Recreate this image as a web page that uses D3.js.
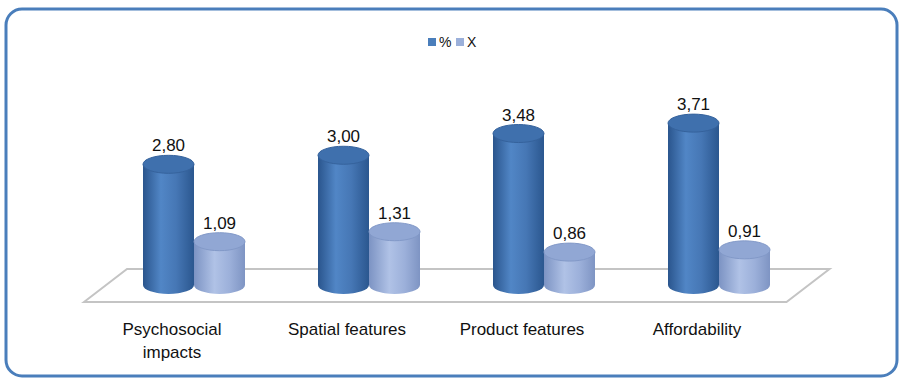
<!DOCTYPE html>
<html>
<head>
<meta charset="utf-8">
<script src="https://cdn.jsdelivr.net/npm/d3@7"></script>
<style>
  body { margin: 0; background: #fff; }
  text { font-family: "Liberation Sans", Arial, sans-serif; fill: #111; }
</style>
</head>
<body>
<div id="chart"></div>
<script>
const categories = ["Psychosocial impacts", "Spatial features", "Product features", "Affordability"];
const series = ["%", "X"];
const pctValues = [2.80, 3.00, 3.48, 3.71];
const xValues = [1.09, 1.31, 0.86, 0.91];

const width = 903, height = 379,
  floorBack = 269, floorFront = 302, depthX = 43,
  baseY = 285, ry = 9,
  colors = { "%": "#4a7ebb", "X": "#9bb0da" };

const rows = categories.map((c, i) => ({ cat: c, "%": pctValues[i], "X": xValues[i] }));

const svg = d3.select('#chart').append('svg')
  .attr('width', width)
  .attr('height', height);

// gradients for cylinder bodies
const defs = svg.append('defs');
const grads = {
  "%": [["0%", "#2a558d"], ["35%", "#5186c6"], ["65%", "#4677b5"], ["100%", "#2b578f"]],
  "X": [["0%", "#7c93c3"], ["40%", "#b0c2e6"], ["70%", "#9cb0da"], ["100%", "#7e94c3"]]
};
Object.keys(grads).forEach((k, i) => {
  const g = defs.append('linearGradient').attr('id', 'grad' + i)
    .attr('x1', '0%').attr('x2', '100%').attr('y1', '0%').attr('y2', '0%');
  grads[k].forEach(s => g.append('stop').attr('offset', s[0]).attr('stop-color', s[1]));
});

// frame
svg.append('rect')
  .attr('x', 6).attr('y', 9)
  .attr('width', 891).attr('height', 367)
  .attr('rx', 16)
  .attr('fill', '#fff')
  .attr('stroke', '#4a7ebb')
  .attr('stroke-width', 3);

const x0 = d3.scaleBand().domain(categories).range([106.5, 806.5]);
const x1 = d3.scaleBand().domain(series).range([-51, 51]);
const y = d3.scaleLinear().domain([0, 4]).range([291, 110]);

// floor
const fl = x0.range()[0] - 22, fr = x0.range()[1] - 20;
svg.append('path')
  .attr('d', `M${fl - 0.5},${floorFront} L${fl + depthX - 0.5},${floorBack} L${fr + depthX},${floorBack} L${fr},${floorFront} Z`)
  .attr('fill', '#fff')
  .attr('stroke', '#c4c4c4')
  .attr('stroke-width', 2);

// legend
const legend = svg.append('g').attr('transform', 'translate(428,38)');
series.forEach((s, i) => {
  legend.append('rect').attr('x', i * 28).attr('y', 0).attr('width', 8).attr('height', 8).attr('fill', colors[s]);
  legend.append('text').attr('x', i * 28 + 11).attr('y', 9).attr('font-size', 14).text(s);
});

// cylinders
const groups = svg.selectAll('.group')
  .data(rows)
  .enter()
  .append('g')
  .attr('class', 'group')
  .attr('transform', d => 'translate(' + (x0(d.cat) + x0.bandwidth() / 2) + ',0)');

const bars = groups.selectAll('.bar')
  .data(d => series.map(s => ({ key: s, value: d[s] })))
  .enter()
  .append('g')
  .attr('class', 'bar');

const rx = x1.bandwidth() / 2;
bars.append('path')
  .attr('d', d => {
    const cx = x1(d.key) + rx, top = y(d.value);
    return `M${cx - rx},${top} L${cx - rx},${baseY} A${rx},${ry} 0 0 0 ${cx + rx},${baseY} L${cx + rx},${top} Z`;
  })
  .attr('fill', d => 'url(#grad' + series.indexOf(d.key) + ')');

bars.append('ellipse')
  .attr('cx', d => x1(d.key) + rx)
  .attr('cy', d => y(d.value))
  .attr('rx', rx)
  .attr('ry', ry)
  .attr('fill', d => d.key === '%' ? '#3f70ad' : '#91a7d4')
  .attr('stroke', d => d.key === '%' ? '#35629c' : '#8299c8')
  .attr('stroke-width', 1);

bars.append('text')
  .attr('x', d => x1(d.key) + rx)
  .attr('y', d => y(d.value) - ry - 4)
  .attr('text-anchor', 'middle')
  .attr('font-size', 17)
  .text(d => d3.format('.2f')(d.value).replace('.', ','));

// category labels
groups.append('text')
  .attr('x', -22)
  .attr('y', 335)
  .attr('text-anchor', 'middle')
  .attr('font-size', 17)
  .each(function (d) {
    const words = d.cat === "Psychosocial impacts" ? ["Psychosocial", "impacts"] : [d.cat];
    words.forEach((w, i) => {
      d3.select(this).append('tspan').attr('x', -22).attr('dy', i ? 23 : 0).text(w);
    });
  });
</script>
</body>
</html>
